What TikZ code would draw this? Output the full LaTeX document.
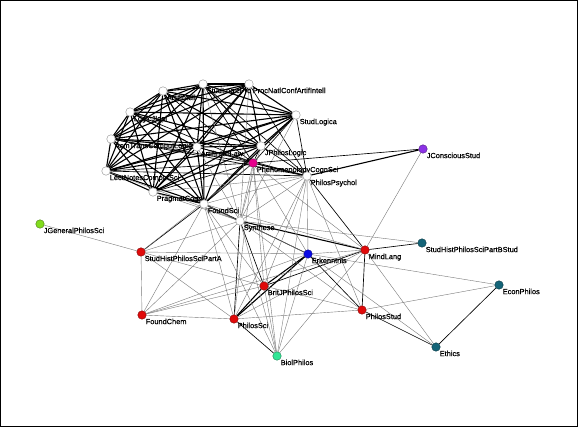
\documentclass[tikz,border=0pt]{standalone}
\usepackage{fontspec}
\setmainfont{Liberation Sans}
\newfontfamily\labfont[FakeBold=0.6]{Liberation Sans}
\usetikzlibrary{backgrounds}
\definecolor{nred}{RGB}{225,10,10}
\definecolor{nblue}{RGB}{10,10,230}
\definecolor{nmag}{RGB}{230,0,140}
\definecolor{npur}{RGB}{140,50,230}
\definecolor{nlgr}{RGB}{130,220,30}
\definecolor{nbgr}{RGB}{50,230,150}
\definecolor{nteal}{RGB}{20,100,120}
\definecolor{ngray}{RGB}{120,120,120}
\begin{document}
\begin{tikzpicture}[x=1pt,y=-1pt,
  vtx/.style={circle,draw=#1!55!black,fill=#1,minimum size=8.5pt,inner sep=0pt,
    line width=0.4pt,label distance=0pt},
  lab/.style={font=\labfont\fontsize{7.4}{8}\selectfont,inner sep=0.4pt,text=black},
  thk/.style={black,line width=1.1pt},
  med/.style={black,line width=0.65pt},
  thn/.style={ngray,line width=0.4pt}]
\useasboundingbox (0,0) rectangle (578,427);
% nodes
\node[vtx=white,label={[lab]below right:StudLogicPro}] (SLP) at (203,84) {};
\node[vtx=white,label={[lab]below right:ProcNatlConfArtifIntell}] (PNC) at (249,84) {};
\node[vtx=white,label={[lab]below right:ArtifIntell}] (AI) at (163,91) {};
\node[vtx=white,label={[lab]below right:LogicJIgpl}] (LJ) at (130,112) {};
\node[vtx=white,label={[lab]below right:AcmTransComputLogic}] (ACM) at (111,139) {};
\node[vtx=white,label={[lab]below right:LectNotesComputSci}] (LNCS) at (106,171) {};
\node[vtx=white,label={[lab]below right:PragmatCogn}] (PC) at (153,192) {};
\node[vtx=white,label={[lab]below right:ArtifIntellLaw}] (AIL) at (197,147) {};
\node[vtx=white,label={[lab]below right:JPhilosLogic}] (JPL) at (261,146) {};
\node[vtx=white,label={[lab]below right:StudLogica}] (SL) at (296,115) {};
\node[vtx=nmag,label={[lab]below right:PhenomenologyCognSci}] (PCS) at (253,163) {};
\node[vtx=white,label={[lab]below right:PhilosPsychol}] (PP) at (307,176) {};
\node[vtx=npur,label={[lab]below right:JConsciousStud}] (JCS) at (423,149) {};
\node[vtx=white,label={[lab]below right:FoundSci}] (FS) at (204,204) {};
\node[vtx=white,label={[lab]below right:Synthese}] (SYN) at (240,221) {};
\node[vtx=nlgr,label={[lab]below right:JGeneralPhilosSci}] (JGP) at (40,224) {};
\node[vtx=nred,label={[lab]below right:StudHistPhilosSciPartA}] (SHA) at (141,252) {};
\node[vtx=nred,label={[lab]below right:FoundChem}] (FC) at (142,315) {};
\node[vtx=nblue,label={[lab]below right:Erkenntnis}] (ERK) at (308,254) {};
\node[vtx=nred,label={[lab]below right:MindLang}] (ML) at (365,250) {};
\node[vtx=nred,label={[lab]below right:BritJPhilosSci}] (BJ) at (264,286) {};
\node[vtx=nred,label={[lab]below right:PhilosSci}] (PS) at (234,319) {};
\node[vtx=nred,label={[lab]below right:PhilosStud}] (PST) at (362,310) {};
\node[vtx=nbgr,label={[lab]below right:BiolPhilos}] (BP) at (277,356) {};
\node[vtx=nteal,label={[lab]below right:StudHistPhilosSciPartBStud}] (SHB) at (422,243) {};
\node[vtx=nteal,label={[lab]below right:EconPhilos}] (EP) at (499,285) {};
\node[vtx=nteal,label={[lab]below right:Ethics}] (ETH) at (436,347) {};
% edges
\begin{pgfonlayer}{background}
\foreach \a [count=\i] in {SLP,PNC,AI,LJ,ACM,LNCS,PC,AIL,JPL,SL}{
  \foreach \b [count=\j] in {SLP,PNC,AI,LJ,ACM,LNCS,PC,AIL,JPL,SL}{
    \ifnum\j>\i \draw[thk] (\a) -- (\b);\fi }}
\foreach \a in {SLP,PNC,AI,LJ,ACM,LNCS,PC,AIL,JPL,SL}
  \draw[thk] (FS) -- (\a);
\foreach \a in {LNCS,ACM,AIL,AI,LJ,SLP,JPL,SL,PC}
  \draw[med] (PCS) -- (\a);
\foreach \a in {LNCS,ACM,AIL,SL,JPL,PNC,SLP}
  \draw[med] (PP) -- (\a);
\foreach \a in {LNCS,SLP,PNC,JPL,SL,PC,AIL}
  \draw[thn] (SYN) -- (\a);
\draw[thn] (PP) -- (PC);
\foreach \a/\b in {PCS/PP,PP/JCS,FS/SYN,SYN/ML,PS/BJ,PS/ERK,BJ/ERK}
  \draw[thk] (\a) -- (\b);
\foreach \a/\b in {PCS/JCS,PP/ML,PCS/FS,FS/SHA,SYN/PS,SYN/BJ,SYN/ERK,PS/BP,BJ/ML,
  ERK/PST,ML/PST,ML/SHB,PST/ETH,EP/ETH}
  \draw[med] (\a) -- (\b);
\foreach \a/\b in {PP/ERK,PP/BJ,PP/PS,PP/SYN,PP/FS,PP/BP,PP/PST,
  PCS/SYN,PCS/ERK,PCS/BJ,PCS/PS,PCS/ML,PCS/BP,PCS/SHA,
  FS/FC,FS/PS,FS/BJ,FS/ERK,FS/ML,FS/BP,
  SYN/SHB,SYN/FC,SYN/SHA,SYN/PST,SYN/BP,
  SHA/JGP,SHA/FC,SHA/BJ,SHA/PS,SHA/ERK,
  FC/PS,FC/BJ,FC/ERK,FC/ML,
  PS/ML,PS/PST,BJ/PST,BJ/BP,ERK/ML,ERK/BP,ERK/EP,ERK/ETH,
  ML/JCS,ML/ETH,ML/BP,PST/EP}
  \draw[thn] (\a) -- (\b);
\end{pgfonlayer}
\draw[line width=1.2pt] (0.6,0.6) rectangle (577.4,426.4);
\end{tikzpicture}
\end{document}
